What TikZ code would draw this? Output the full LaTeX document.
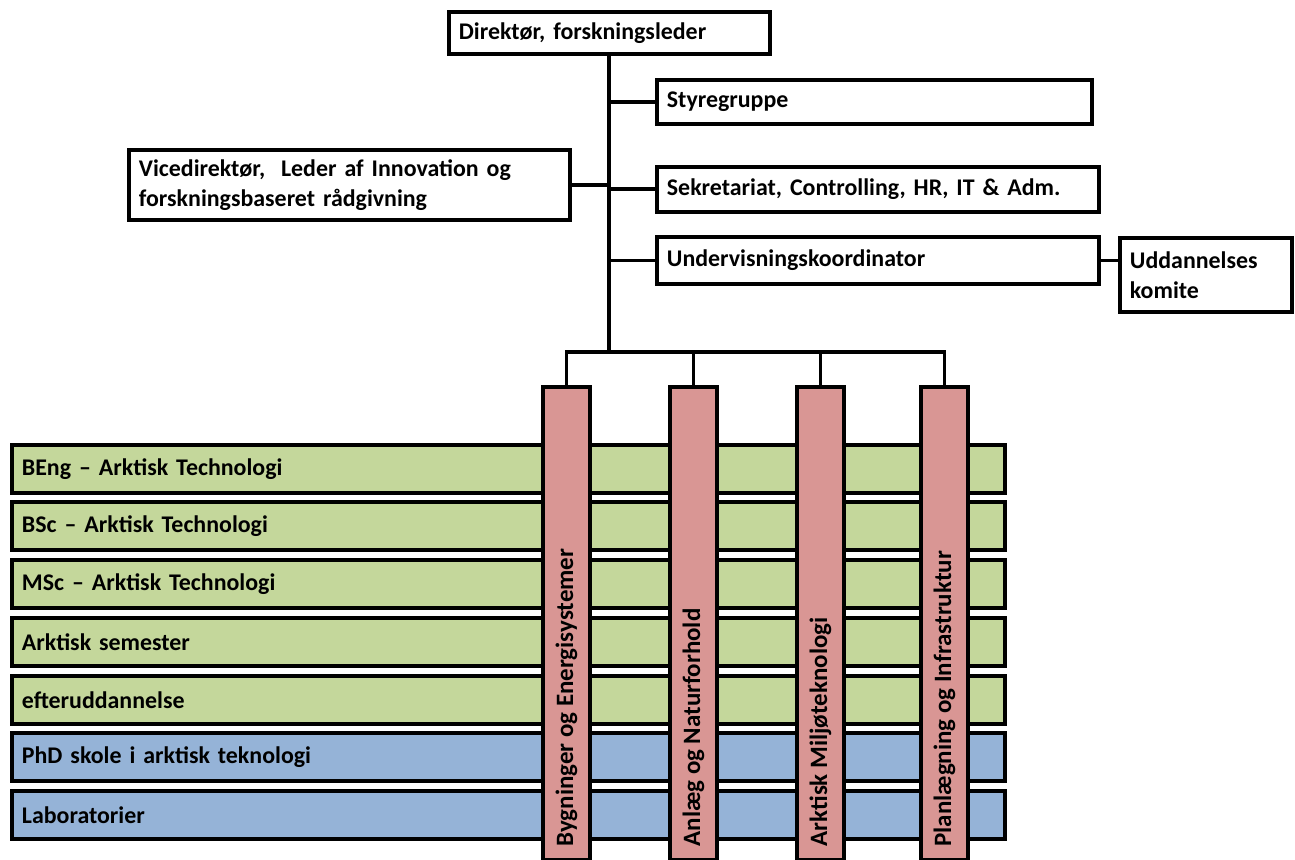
\documentclass[tikz,border=0pt]{standalone}
\usepackage{fontspec}
\setmainfont{Carlito}
\definecolor{bargreen}{RGB}{196,215,155}
\definecolor{barblue}{RGB}{149,179,215}
\definecolor{pillarpink}{RGB}{217,150,148}
\begin{document}
\begin{tikzpicture}[x=0.02cm,y=-0.02cm,
  box/.style={draw, line width=2.2pt, anchor=north west, inner xsep=0.2cm, inner ysep=0pt, align=left, font=\fontsize{13.6}{17}\selectfont\bfseries},
  bar/.style={box, minimum height=0.96cm, text width=19.46cm},
  pillar/.style={draw, line width=2.2pt, fill=pillarpink, anchor=north west, minimum width=0.94cm, minimum height=9.46cm, inner sep=0pt},
  ptext/.style={rotate=90, anchor=west, font=\fontsize{14.2}{16}\selectfont\bfseries, inner sep=0pt},
  link/.style={line width=2.2pt}]
\useasboundingbox (0,0) rectangle (1295,859);
% top boxes
\node[box, minimum height=0.84cm, text width=6.02cm] (dir) at (447,10) {Direktør, forskningsleder};
\node[box, minimum height=0.88cm, text width=8.3cm] (sty) at (655,78) {Styregruppe};
\node[box, minimum height=1.4cm, text width=8.42cm] (vice) at (127,148) {Vicedirektør,\ \ Leder af Innovation og\\forskningsbaseret rådgivning};
\node[box, minimum height=0.9cm, text width=8.44cm] (sek) at (655,165) {Sekretariat, Controlling, HR, IT \& Adm.};
\node[box, minimum height=0.94cm, text width=8.44cm] (und) at (655,235) {Undervisningskoordinator};
\node[box, minimum height=1.48cm, text width=3.04cm] (udd) at (1118,236) {Uddannelses\\komite};
% bars
\node[bar, fill=bargreen] (b1) at (10,443) {BEng – Arktisk Technologi};
\node[bar, fill=bargreen] (b2) at (10,500) {BSc – Arktisk Technologi};
\node[bar, fill=bargreen] (b3) at (10,558) {MSc – Arktisk Technologi};
\node[bar, fill=bargreen] (b4) at (10,616) {Arktisk semester};
\node[bar, fill=bargreen] (b5) at (10,674) {efteruddannelse};
\node[bar, fill=barblue] (b6) at (10,731) {PhD skole i arktisk teknologi};
\node[bar, fill=barblue] (b7) at (10,789) {Laboratorier};
% pillars
\node[pillar] (p1) at (541,385) {};
\node[pillar] (p2) at (668,385) {};
\node[pillar] (p3) at (795,385) {};
\node[pillar] (p4) at (919,385) {};
\node[ptext] (t1) at ([yshift=0.3cm]p1.south) {Bygninger og Energisystemer};
\node[ptext] (t2) at ([yshift=0.3cm]p2.south) {Anlæg og Naturforhold};
\node[ptext] (t3) at ([yshift=0.3cm]p3.south) {Arktisk Miljøteknologi};
\node[ptext] (t4) at ([yshift=0.3cm]p4.south) {Planlægning og Infrastruktur};
% connectors
\coordinate (bus) at (610,352);
\draw[link] (dir.south) -- (dir.south |- bus);
\draw[link] (dir.south |- sty.west) -- (sty.west);
\draw[link] (vice.east) -- (dir.south |- vice.east);
\draw[link] (dir.south |- sek.west) -- (sek.west);
\draw[link] (dir.south |- und.west) -- (und.west);
\draw[link] (und.east) -- (udd.west |- und.east);
\draw[link] (p1.north) |- (p4.north |- bus) -- (p4.north);
\draw[link] (p2.north) -- (p2.north |- bus);
\draw[link] (p3.north) -- (p3.north |- bus);
\end{tikzpicture}
\end{document}
